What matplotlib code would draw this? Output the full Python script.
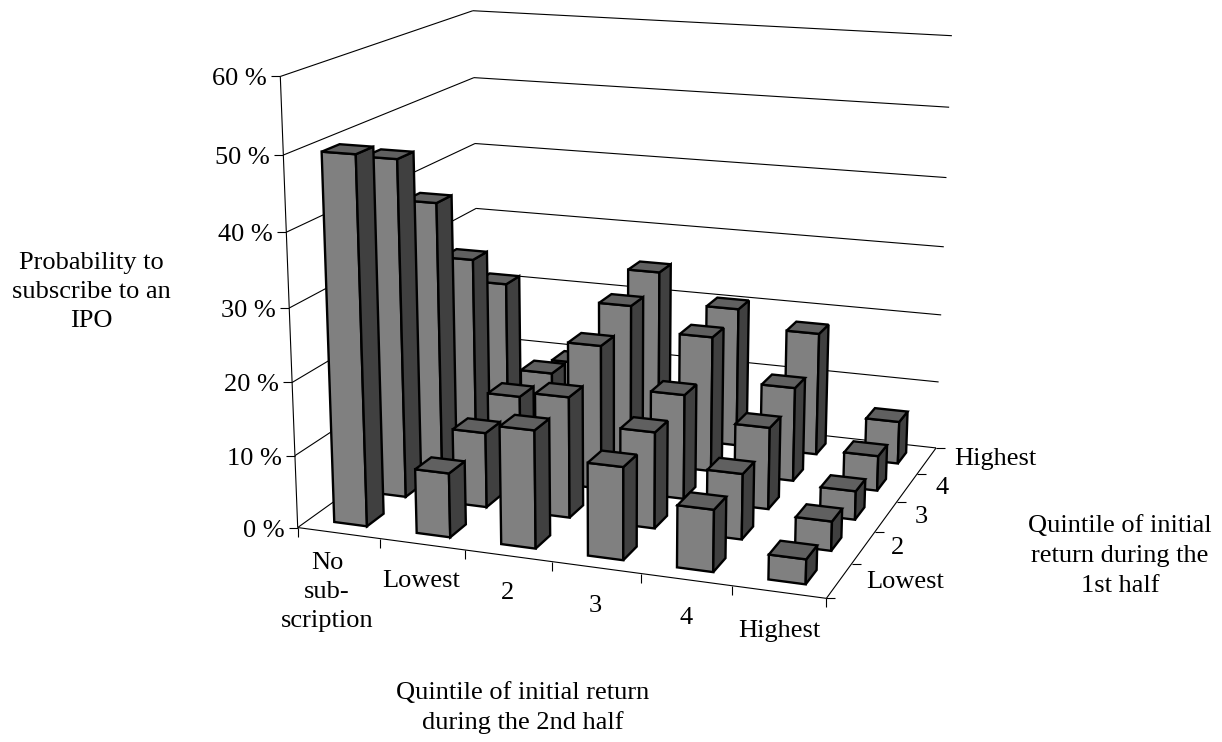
#!/usr/bin/env python3
import numpy as np
from matplotlib import pyplot as plt
from matplotlib.patches import Polygon

plt.rcParams['font.family'] = ['Liberation Serif', 'DejaVu Sans']

W, H = 1222, 742

x_labels = ['No\nsub-\nscription', 'Lowest', '2', '3', '4', 'Highest']
y_labels = ['Lowest', '2', '3', '4', 'Highest']
z_ticks = [0, 10, 20, 30, 40, 50, 60]

# columns: 2nd half quintile, one list per 1st half quintile
row_lowest = [50.0, 8.8, 16.0, 12.5, 8.3, 3.3]
row_2 = [47.0, 10.5, 16.8, 13.3, 9.0, 4.0]
row_3 = [38.5, 12.0, 20.5, 14.8, 11.5, 4.0]
row_4 = [27.6, 11.9, 23.0, 19.6, 13.5, 5.0]
row_highest = [21.0, 10.0, 24.9, 20.5, 18.0, 6.2]
rows = [row_lowest, row_2, row_3, row_4, row_highest]

BAR_W = 0.40
BAR_D = 0.42


def fit_camera():
  # corners of the plot box in data space and where they sit on the page
  pts = [((0, 0, 0), (297.7, 526)), ((0, 0, 60), (280, 77)),
         ((0, 5, 0), (479, 399)), ((0, 5, 60), (473.3, 10)),
         ((6, 5, 0), (936, 446.7)), ((6, 5, 60), (951.7, 36)),
         ((6, 0, 0), (826.7, 599.5))]
  A, b = [], []
  for (x, y, z), (u, v) in pts:
    A.append([x, y, z, 1, 0, 0, 0, 0, -u*x, -u*y, -u*z])
    A.append([0, 0, 0, 0, x, y, z, 1, -v*x, -v*y, -v*z])
    b += [u, v]
  p = np.linalg.lstsq(np.array(A, float), np.array(b, float), rcond=None)[0]
  return np.append(p, 1).reshape(3, 4)


CAM = fit_camera()


def proj(x, y, z):
  u, v, w = CAM @ np.array([x, y, z, 1.0])
  return (u/w, v/w)


def draw_bar(ax, i, j, val):
  x0 = i+0.5-BAR_W/2
  x1 = i+0.5+BAR_W/2
  y0 = j+0.5-BAR_D/2
  y1 = j+0.5+BAR_D/2
  front = [proj(x0, y0, 0), proj(x1, y0, 0), proj(x1, y0, val), proj(x0, y0, val)]
  side = [proj(x1, y0, 0), proj(x1, y1, 0), proj(x1, y1, val), proj(x1, y0, val)]
  top = [proj(x0, y0, val), proj(x1, y0, val), proj(x1, y1, val), proj(x0, y1, val)]
  for poly, col in ((front, '#808080'), (side, '#404040'), (top, '#606060')):
    ax.add_patch(Polygon(poly, closed=True, fc=col, ec='k', lw=1.7, joinstyle='miter', zorder=3))


def line(ax, a, b, lw=0.8):
  ax.plot([a[0], b[0]], [a[1], b[1]], color='k', lw=lw, solid_capstyle='butt', zorder=2)


f = plt.figure(figsize=(W/100, H/100), dpi=100)
ax = f.add_axes((0, 0, 1, 1))
ax.set_xlim(0, W)
ax.set_ylim(H, 0)
ax.axis('off')

# walls and floor
for z in z_ticks:
  a = proj(0, 0, z)
  b = proj(0, 5, z)
  c = proj(6, 5, z)
  line(ax, a, b)
  line(ax, b, c)
  line(ax, a, (a[0]-9, a[1]))
  ax.text(a[0]-13.5, a[1]+3, f'{z} %', ha='right', va='center', fontsize=19)
line(ax, proj(0, 0, 0), proj(0, 0, 60))
line(ax, proj(0, 0, 0), proj(6, 0, 0))
line(ax, proj(6, 0, 0), proj(6, 5, 0))

for i in range(7):
  a = proj(i, 0, 0)
  line(ax, a, (a[0], a[1]+9))
for j in range(6):
  a = proj(6, j, 0)
  line(ax, a, (a[0]+9, a[1]))

for j in range(4, -1, -1):
  for i in range(6):
    draw_bar(ax, i, j, rows[j][i])

x_pos = [(327, 592), (421.5, 581), (507, 593), (595, 606), (686, 618), (779, 631)]
for lab, (u, v) in zip(x_labels, x_pos):
  ax.text(u, v, lab, ha='center', va='center', fontsize=19, linespacing=1.43)
y_pos = [(905, 582), (898, 548), (921, 517), (942, 488), (995, 459)]
for lab, (u, v) in zip(y_labels, y_pos):
  ax.text(u, v, lab, ha='center', va='center', fontsize=19)

ax.text(91.5, 292, 'Probability to\nsubscribe to an\nIPO', ha='center', va='center', fontsize=19, linespacing=1.43)
ax.text(1120, 556, 'Quintile of initial\nreturn during the\n1st half', ha='center', va='center', fontsize=19, linespacing=1.45)
ax.text(523, 708, 'Quintile of initial return\nduring the 2nd half', ha='center', va='center', fontsize=19, linespacing=1.41)

f.savefig('out.png', dpi=100)
